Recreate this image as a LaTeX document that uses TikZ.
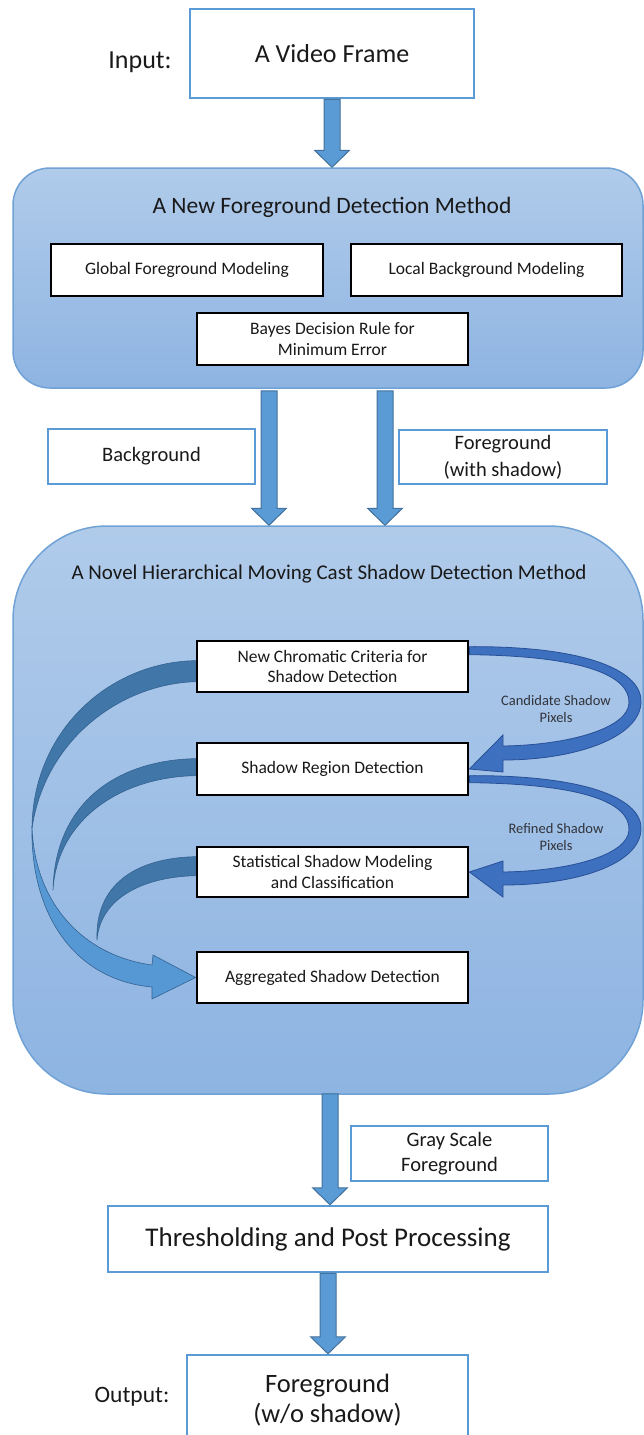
\documentclass[tikz,border=0pt]{standalone}
\usepackage{fontspec}
\setmainfont{Carlito}
\usetikzlibrary{calc}
\definecolor{arrowfill}{RGB}{91,155,213}
\definecolor{arrowline}{RGB}{65,113,156}
\definecolor{boxblue}{RGB}{91,155,213}
\definecolor{paneltop}{RGB}{176,203,234}
\definecolor{panelbot}{RGB}{142,180,226}
\definecolor{panelline}{RGB}{112,162,214}
\definecolor{txt}{RGB}{25,25,25}
\definecolor{labgray}{RGB}{50,52,60}
\definecolor{curvedark}{RGB}{64,118,168}
\definecolor{curvedarkline}{RGB}{52,98,145}
\definecolor{curvelight}{RGB}{86,152,212}
\definecolor{rightfill}{RGB}{62,112,192}
\definecolor{rightline}{RGB}{40,80,150}
\newcommand{\fsz}[2]{\fontsize{#1}{#2}\selectfont}
\newcommand{\blockarrowv}[2]{%
  \path[blockarr] let \p1=(#1), \p2=(#2) in
    (\x1-8pt,\y1) -- (\x1-8pt,\y2+17pt) -- (\x1-17.5pt,\y2+17pt) -- (\x1,\y2)
    -- (\x1+17.5pt,\y2+17pt) -- (\x1+8pt,\y2+17pt) -- (\x1+8pt,\y1) -- cycle;}
\pgfdeclarelayer{back}
\pgfdeclarelayer{mid}
\pgfsetlayers{back,mid,main}
\tikzset{
  panel/.style={draw=panelline, line width=1.5pt, rounded corners=#1,
    top color=paneltop, bottom color=panelbot, inner sep=0pt},
  bluebox/.style={draw=boxblue, line width=2.5pt, fill=white, inner sep=0pt,
    align=center, text=txt},
  blackbox/.style={draw=black, line width=2.7pt, fill=white, inner sep=0pt,
    align=center, text=txt, font=\fsz{17.5}{20.5}},
  blockarr/.style={fill=arrowfill, draw=arrowline, line width=1pt},
  darkribbon/.style={fill=curvedark, draw=curvedarkline, line width=0.6pt},
  lightribbon/.style={fill=curvelight, draw=curvedarkline, line width=0.6pt},
  rightribbon/.style={fill=rightfill, draw=rightline, line width=0.8pt},
  sidelabel/.style={text=labgray, align=center, font=\fsz{14.5}{17}},
  plain/.style={text=txt, inner sep=0pt}
}
\begin{document}
\begin{tikzpicture}[x=1pt,y=-1pt]
\useasboundingbox (0,0) rectangle (644,1435);
% panels
\begin{pgfonlayer}{back}
\node[panel=37pt, minimum width=630pt, minimum height=220pt] (fg) at (328,278) {};
\node[panel=94pt, minimum width=630pt, minimum height=568pt] (hier) at (328,810) {};
\end{pgfonlayer}
% titles and side texts
\node[plain, anchor=base, font=\fsz{26}{31}] (inlab) at (140,68) {Input:};
\node[plain, anchor=base, font=\fsz{23.5}{28}] (fgtitle) at (332,213) {A New Foreground Detection Method};
\node[plain, anchor=base, font=\fsz{21}{25}] (hiertitle) at (329,579) {A Novel Hierarchical Moving Cast Shadow Detection Method};
\node[plain, anchor=base, font=\fsz{23.5}{28}] (outlab) at (132,1402) {Output:};
% blue-outlined boxes
\node[bluebox, minimum width=284pt, minimum height=89pt, font=\fsz{26}{31}] (vf) at (332,53.5) {A Video Frame};
\node[bluebox, minimum width=207pt, minimum height=55pt, font=\fsz{20.5}{27}] (bg) at (151.5,456.5) {Background};
\node[bluebox, minimum width=208pt, minimum height=54pt, font=\fsz{20.5}{27}] (fgws) at (503,457) {Foreground\\(with shadow)};
\node[bluebox, minimum width=197pt, minimum height=55pt, font=\fsz{20.5}{25}] (gray) at (449.5,1153.5) {Gray Scale\\Foreground};
\node[bluebox, minimum width=440pt, minimum height=66pt, font=\fsz{27}{32}] (thr) at (328,1239) {Thresholding and Post Processing};
\node[bluebox, minimum width=281pt, minimum height=90pt, font=\fsz{26.5}{30}] (out) at (327.5,1400) {Foreground\\(w/o shadow)};
% black-outlined boxes
\node[blackbox, minimum width=272pt, minimum height=52pt] (gfm) at (187,270) {Global Foreground Modeling};
\node[blackbox, minimum width=271pt, minimum height=52pt] (lbm) at (486.5,270) {Local Background Modeling};
\node[blackbox, minimum width=271pt, minimum height=52pt] (bayes) at (332.5,339) {Bayes Decision Rule for\\Minimum Error};
\node[blackbox, minimum width=271pt, minimum height=51pt] (chrom) at (332.5,666.5) {New Chromatic Criteria for\\Shadow Detection};
\node[blackbox, minimum width=271pt, minimum height=52pt] (region) at (332.5,769) {Shadow Region Detection};
\node[blackbox, minimum width=271pt, minimum height=50pt] (stat) at (332.5,872) {Statistical Shadow Modeling\\and Classification};
\node[blackbox, minimum width=271pt, minimum height=51pt] (agg) at (332.5,977.5) {Aggregated Shadow Detection};
% labels of the right-hand curved arrows
\node[sidelabel] (lab1) at (556,709) {Candidate Shadow\\Pixels};
\node[sidelabel] (lab2) at (556,837) {Refined Shadow\\Pixels};
% straight block arrows
\path (fg.south) ++(-59,2) coordinate (bgsrc);
\path (fg.south) ++(57,2) coordinate (fgsrc);
\path (hier.south) ++(2,-1) coordinate (hsrc);
\blockarrowv{vf.south}{vf.south |- fg.north}
\blockarrowv{bgsrc}{bgsrc |- hier.north}
\blockarrowv{fgsrc}{fgsrc |- hier.north}
\blockarrowv{hsrc}{hsrc |- thr.north}
\blockarrowv{thr.south}{thr.south |- out.north}
% curved arrows
\begin{pgfonlayer}{mid}
% left: from chromatic criteria to aggregated detection
\path[darkribbon] ($(chrom.north west)+(0,21)$) .. controls (110,662) and (33,730) .. (32,828)
  .. controls (45,740) and (120,684) .. ($(chrom.north west)+(0,42)$) -- cycle;
\path[lightribbon] (32,826) .. controls (34,900) and (80,955) .. (152,965)
  -- (153,955) -- (agg.west) -- (152,999) -- (152,987)
  .. controls (75,980) and (30,915) .. (32,826) -- cycle;
% left: from shadow region detection
\path[darkribbon] ($(region.north west)+(0,17)$) .. controls (120,760) and (55,800) .. (53,890)
  .. controls (57,820) and (120,777) .. ($(region.north west)+(0,34)$) -- cycle;
% left: from statistical modeling
\path[darkribbon] ($(stat.north west)+(0,11)$) .. controls (135,858) and (95,885) .. (97,940)
  .. controls (100,900) and (140,877) .. ($(stat.north west)+(0,30)$) -- cycle;
% right: candidate shadow pixels
\path[rightribbon] ($(chrom.north east)+(0,7)$) .. controls (590,646) and (643,672) .. (641,703)
  .. controls (639,738) and (575,760) .. (503,760)
  -- (503,772) -- (region.east) -- (503,735) -- (503,746)
  .. controls (570,745) and (628,728) .. (629,703)
  .. controls (630,676) and (585,656) .. ($(chrom.north east)+(0,15)$) -- cycle;
% right: refined shadow pixels
\path[rightribbon] ($(region.north east)+(0,34)$) .. controls (590,775) and (643,800) .. (641,830)
  .. controls (639,865) and (575,885) .. (503,885)
  -- (503,897) -- (stat.east) -- (503,861) -- (503,872)
  .. controls (570,871) and (628,855) .. (629,830)
  .. controls (630,803) and (585,784) .. ($(region.north east)+(0,41)$) -- cycle;
\end{pgfonlayer}
\end{tikzpicture}
\end{document}
